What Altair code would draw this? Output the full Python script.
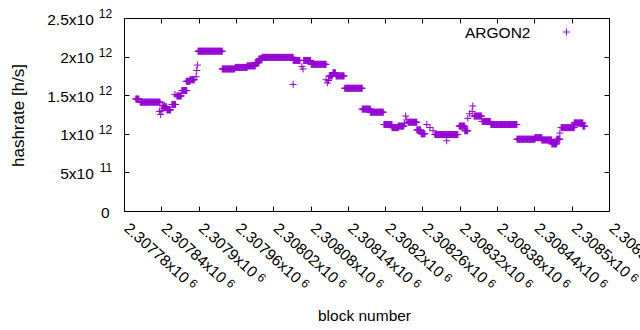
import altair as alt
import pandas as pd

# ---- data (runs of constant per-block hashrate) ----
run_start = [2307799, 2307806, 2307837, 2307839, 2307841, 2307842, 2307843, 2307844,
             2307845, 2307846, 2307847, 2307849, 2307857, 2307862, 2307865, 2307873,
             2307880, 2307886, 2307896, 2307897, 2307898, 2307899, 2307938, 2307959,
             2307978, 2307991, 2307997, 2308002, 2308052, 2308052, 2308066, 2308068,
             2308069, 2308081, 2308105, 2308107, 2308109, 2308110, 2308116, 2308121,
             2308135, 2308163, 2308176, 2308198, 2308211, 2308221, 2308231, 2308233,
             2308235, 2308237, 2308251, 2308258, 2308267, 2308272, 2308277, 2308280,
             2308299, 2308300, 2308319, 2308328, 2308333, 2308336, 2308340, 2308341,
             2308343, 2308356, 2308370, 2308412, 2308441, 2308452, 2308468, 2308476,
             2308481, 2308483, 2308504, 2308518]
run_end = [2307804, 2307838, 2307837, 2307839, 2307841, 2307842, 2307843, 2307844,
           2307845, 2307846, 2307848, 2307855, 2307863, 2307862, 2307872, 2307881,
           2307886, 2307893, 2307896, 2307897, 2307898, 2307938, 2307958, 2307978,
           2307991, 2307997, 2308002, 2308052, 2308063, 2308052, 2308066, 2308068,
           2308080, 2308105, 2308105, 2308107, 2308109, 2308115, 2308120, 2308134,
           2308163, 2308176, 2308197, 2308211, 2308221, 2308230, 2308231, 2308233,
           2308235, 2308251, 2308257, 2308264, 2308267, 2308272, 2308277, 2308299,
           2308299, 2308317, 2308328, 2308333, 2308333, 2308336, 2308340, 2308341,
           2308355, 2308369, 2308412, 2308441, 2308452, 2308468, 2308476, 2308481,
           2308481, 2308504, 2308518, 2308521]
run_value = [1.45e12, 1.41e12, 1.29e12, 1.25e12, 1.30e12, 1.36e12, 1.33e12, 1.37e12,
             1.36e12, 1.34e12, 1.35e12, 1.31e12, 1.38e12, 1.51e12, 1.49e12, 1.56e12,
             1.68e12, 1.70e12, 1.74e12, 1.82e12, 1.89e12, 2.07e12, 1.84e12, 1.86e12,
             1.88e12, 1.92e12, 1.97e12, 1.99e12, 1.95e12, 1.64e12, 1.87e12, 1.84e12,
             1.95e12, 1.90e12, 1.70e12, 1.66e12, 1.69e12, 1.75e12, 1.79e12, 1.75e12,
             1.59e12, 1.32e12, 1.28e12, 1.12e12, 1.08e12, 1.10e12, 1.13e12, 1.23e12,
             1.18e12, 1.15e12, 1.05e12, 1.00e12, 1.12e12, 1.08e12, 1.04e12, 0.99e12,
             0.91e12, 0.99e12, 1.10e12, 1.04e12, 1.20e12, 1.26e12, 1.29e12, 1.36e12,
             1.23e12, 1.16e12, 1.12e12, 0.93e12, 0.95e12, 0.92e12, 0.87e12, 0.93e12,
             1.01e12, 1.08e12, 1.14e12, 1.10e12]
series_name = "ARGON2"

x_ticks = [2307780, 2307840, 2307900, 2307960, 2308020, 2308080, 2308140,
           2308200, 2308260, 2308320, 2308380, 2308440, 2308500, 2308560]
x_tick_main = ["2.30778x10", "2.30784x10", "2.3079x10", "2.30796x10", "2.30802x10",
               "2.30808x10", "2.30814x10", "2.3082x10", "2.30826x10", "2.30832x10",
               "2.30838x10", "2.30844x10", "2.3085x10", "2.30856x10"]
x_tick_sup = ["6"] * len(x_ticks)
y_ticks = [0, 5e11, 1e12, 1.5e12, 2e12, 2.5e12]
y_tick_main = ["0", "5x10", "1x10", "1.5x10", "2x10", "2.5x10"]
y_tick_sup = ["", "11", "12", "12", "12", "12"]

rows = []
for s, e, v in zip(run_start, run_end, run_value):
    for b in range(s, e + 1):
        rows.append({"block": b, "hashrate": v, "series": series_name})
df = pd.DataFrame(rows)

W, H = 485, 193
FONT = "Liberation Sans"
FS = 15.5
FS_SUP = 12
COLOR = "#9400D3"
PLUS = "M-1,0L1,0M0,-1L0,1"
ANG = 42

x_scale = alt.Scale(domain=[x_ticks[0], x_ticks[-1]], nice=False, zero=False)
y_scale = alt.Scale(domain=[y_ticks[0], y_ticks[-1]], nice=False, zero=False)


def arr(lst):
    return "[" + ",".join("'" + t + "'" for t in lst) + "]"


x_idx = f"round((datum.value - {x_ticks[0]}) / {x_ticks[1] - x_ticks[0]})"
y_idx = f"round(datum.value / {y_ticks[1]})"
short_x = "datum.value % 300 == 0"   # labels with one digit fewer (2.3079, 2.3082, 2.3085)

common = dict(labelFlush=False, labelOverlap=False, ticks=False, domain=False, grid=False,
              labelFont=FONT, labelColor="black", labelBound=False)

XPAD, XOFF = 14.5, 2

base = alt.Chart(df)

# layer 1: visible points, main tick labels, titles, legend
points = base.mark_point(shape=PLUS, filled=False, size=49, strokeWidth=1, opacity=1).encode(
    x=alt.X("block:Q", scale=x_scale,
            axis=alt.Axis(values=x_ticks, labelExpr=f"{arr(x_tick_main)}[{x_idx}]",
                          labelAngle=ANG, labelAlign="left", labelBaseline="middle",
                          labelPadding=XPAD, labelOffset=XOFF, labelFontSize=FS,
                          title="block number", titleFont=FONT, titleFontSize=FS,
                          titleFontWeight="normal", titleColor="black",
                          titleX=240, titleY=104, titleBaseline="middle",
                          titleAlign="center", **common)),
    y=alt.Y("hashrate:Q", scale=y_scale,
            axis=alt.Axis(values=y_ticks, labelExpr=f"{arr(y_tick_main)}[{y_idx}]",
                          labelAlign="right", labelBaseline="middle", labelFontSize=FS,
                          labelPadding={"condition": {"test": "datum.value == 0", "value": 15},
                                        "value": 30.7},
                          labelOffset=1,
                          title="hashrate [h/s]", titleFont=FONT, titleFontSize=17,
                          titleFontWeight="normal", titleColor="black",
                          titleX=-105.5, titleY=97, titleBaseline="middle",
                          titleAlign="center", titleAngle=270, **common)),
    color=alt.Color("series:N", scale=alt.Scale(range=[COLOR]),
                    legend=alt.Legend(orient="none", legendX=341, legendY=10,
                                      title=series_name, titleOrient="left",
                                      titleFont=FONT, titleFontSize=FS,
                                      titleFontWeight="normal", titleColor="black",
                                      titleBaseline="middle", titlePadding=31.5,
                                      symbolType=PLUS, symbolSize=49, symbolStrokeWidth=1,
                                      labelExpr="''", labelFontSize=1)),
)

# layer 2: superscript exponents of the tick labels
sup = base.mark_point(opacity=0).encode(
    x=alt.X("block:Q", scale=x_scale,
            axis=alt.Axis(orient="bottom", values=x_ticks,
                          labelExpr=f"{arr(x_tick_sup)}[{x_idx}]",
                          labelAngle=ANG, labelAlign="left", labelBaseline="middle",
                          labelFontSize=FS_SUP, title=None,
                          labelPadding={"condition": {"test": short_x, "value": XPAD + 49.6},
                                        "value": XPAD + 55.4},
                          labelOffset={"condition": {"test": short_x, "value": XOFF + 58.1},
                                       "value": XOFF + 64.5},
                          **common)),
    y=alt.Y("hashrate:Q", scale=y_scale,
            axis=alt.Axis(orient="left", values=y_ticks,
                          labelExpr=f"{arr(y_tick_sup)}[{y_idx}]",
                          labelAlign="right", labelBaseline="middle", labelFontSize=FS_SUP,
                          labelPadding=12.3, labelOffset=-4.5, title=None, **common)),
)

tick_axis = dict(labels=False, domain=False, grid=False, ticks=True, tickSize=5,
                 tickColor="black", tickWidth=1, title=None)

ticks_a = base.mark_point(opacity=0).encode(
    x=alt.X("block:Q", scale=x_scale,
            axis=alt.Axis(orient="top", offset=-H, values=x_ticks, **tick_axis)),
    y=alt.Y("hashrate:Q", scale=y_scale,
            axis=alt.Axis(orient="right", offset=-W, values=y_ticks, **tick_axis)),
)
ticks_b = base.mark_point(opacity=0).encode(
    x=alt.X("block:Q", scale=x_scale,
            axis=alt.Axis(orient="bottom", offset=-H, values=x_ticks, **tick_axis)),
    y=alt.Y("hashrate:Q", scale=y_scale,
            axis=alt.Axis(orient="left", offset=-W, values=y_ticks, **tick_axis)),
)

chart = alt.layer(points, sup, ticks_a, ticks_b).resolve_axis(
    x="independent", y="independent"
).properties(
    width=W, height=H,
    autosize=alt.AutoSizeParams(type="none"),
    padding={"left": 124, "top": 18, "right": 31, "bottom": 119},
    background="white",
).configure_view(stroke="black", strokeWidth=1)

chart.save("out.html", embed_options={"renderer": "svg", "actions": False})
